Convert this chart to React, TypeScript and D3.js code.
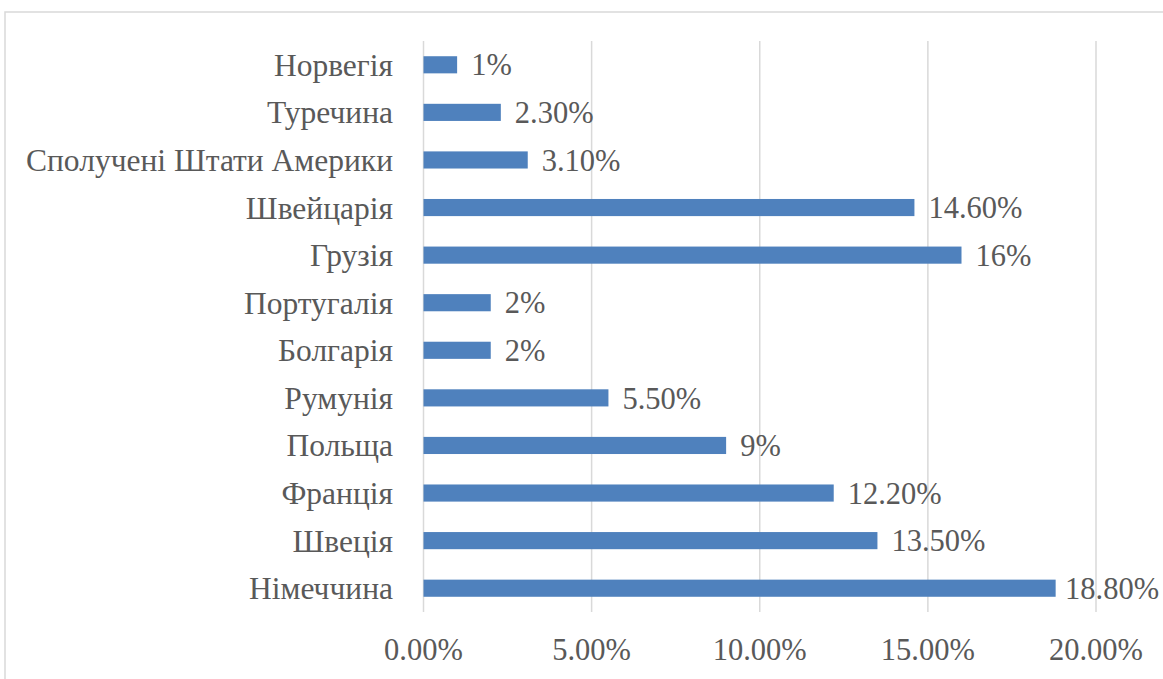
import React from "react";
import * as d3 from "d3";

const categories = ["Норвегія", "Туречина", "Сполучені Штати Америки", "Швейцарія", "Грузія", "Португалія", "Болгарія", "Румунія", "Польща", "Франція", "Швеція", "Німеччина"];
const values = [0.01, 0.023, 0.031, 0.146, 0.16, 0.02, 0.02, 0.055, 0.09, 0.122, 0.135, 0.188];
const valueLabels = ["1%", "2.30%", "3.10%", "14.60%", "16%", "2%", "2%", "5.50%", "9%", "12.20%", "13.50%", "18.80%"];
const ticks = [0, 0.05, 0.1, 0.15, 0.2];

const W = 1163, H = 679;
const font = "'Liberation Serif', 'Times New Roman', serif";
const textColor = "#595959";
const fsCat = 31.5;
const fsNum = 30.5;

export default function App() {
  const x = d3.scaleLinear().domain([0, 0.2]).range([423.5, 1096]);
  const y = d3.scaleBand<string>().domain(categories).range([41, 612]).paddingInner(0.64).paddingOuter(0.32);
  return (
    <div style={{ position: "fixed", left: 0, top: 0 }}>
      <svg width={W} height={H} style={{ display: "block", background: "#fff" }}>
        <rect x={5} y={12} width={W + 20} height={H + 20} fill="#fff" stroke="#d9d9d9" strokeWidth={1.5} />
        {ticks.map((t) => (
          <line key={t} x1={x(t)} x2={x(t)} y1={41} y2={612} stroke="#d9d9d9" strokeWidth={1.5} />
        ))}
        {categories.map((c, i) => (
          <g key={c}>
            <rect x={x(0)} y={y(c)} width={x(values[i]) - x(0)} height={y.bandwidth()} fill="#4F81BD" />
            <text x={393} y={(y(c) as number) + y.bandwidth() / 2} dy="0.35em" textAnchor="end" fontFamily={font} fontSize={fsCat} fill={textColor}>{c}</text>
            <text x={Math.min(x(values[i]) + 14, 1065)} y={(y(c) as number) + y.bandwidth() / 2} dy="0.35em" fontFamily={font} fontSize={fsNum} fill={textColor}>{valueLabels[i]}</text>
          </g>
        ))}
        {ticks.map((t) => (
          <text key={"t" + t} x={x(t)} y={649} dy="0.35em" textAnchor="middle" fontFamily={font} fontSize={fsNum} fill={textColor}>{d3.format(".2%")(t)}</text>
        ))}
      </svg>
    </div>
  );
}
